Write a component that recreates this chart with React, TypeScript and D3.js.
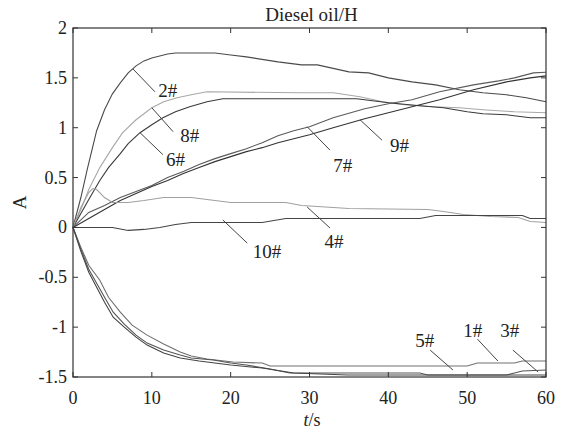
import React from "react";
import * as d3 from "d3";

const W = 572;
const H = 431;
const M = { left: 73, right: 26, top: 28, bottom: 54 };

const xTicks = [0, 10, 20, 30, 40, 50, 60];
const yTicks = [-1.5, -1, -0.5, 0, 0.5, 1, 1.5, 2];
const yTickLabels = ["-1.5", "-1", "-0.5", "0", "0.5", "1", "1.5", "2"];

type P = [number, number];

const s2: P[] = [[0,0],[1,0.3],[1.8,0.58],[3,0.97],[4,1.18],[5,1.34],[6,1.45],[7,1.55],[8,1.62],[9,1.67],[10,1.7],[11,1.72],[12,1.74],[13,1.75],[18,1.75],[20,1.73],[22,1.71],[26,1.66],[29,1.63],[31,1.63],[35,1.56],[37.5,1.55],[40,1.5],[43,1.46],[46,1.43],[49,1.38],[52,1.35],[55,1.33],[57.5,1.3],[60,1.26]];
const s8: P[] = [[0,0],[1,0.18],[2,0.38],[3.4,0.6],[5,0.8],[6.3,0.95],[8,1.08],[10,1.2],[11.5,1.26],[13.2,1.3],[15,1.33],[17,1.36],[28.8,1.35],[33,1.35],[36.4,1.31],[39.3,1.26],[42,1.23],[45.7,1.21],[49,1.2],[52,1.18],[56,1.16],[60,1.15]];
const s6: P[] = [[0,0],[1,0.14],[2,0.28],[3.4,0.47],[4.5,0.6],[6,0.74],[7,0.84],[8.5,0.95],[10,1.03],[11.4,1.1],[13,1.16],[14.8,1.21],[17,1.26],[19,1.29],[36,1.29],[38,1.27],[40,1.25],[44,1.22],[47,1.2],[50,1.16],[52,1.14],[55,1.13],[58,1.1],[60,1.1]];
const s7: P[] = [[0,0],[2,0.15],[4,0.22],[6,0.3],[8,0.36],[10,0.42],[12,0.5],[14,0.56],[16,0.63],[18,0.69],[20,0.74],[22,0.79],[24,0.85],[26,0.92],[28,0.97],[30,1.01],[33,1.1],[37,1.19],[40,1.24],[43,1.28],[46.5,1.36],[50.8,1.43],[54,1.47],[56,1.5],[58.4,1.55],[60,1.556]];
const s9: P[] = [[0,0],[2,0.09],[4,0.18],[6,0.27],[8,0.34],[10,0.41],[12,0.47],[14,0.54],[16,0.6],[18,0.66],[20,0.71],[22,0.76],[24,0.8],[26,0.85],[28,0.89],[30,0.93],[33,1.0],[37,1.09],[40,1.15],[43,1.21],[46.5,1.28],[50.8,1.38],[55,1.46],[58,1.5],[60,1.52]];
const s4: P[] = [[0,0],[1,0.2],[2,0.35],[2.5,0.39],[3,0.38],[4,0.3],[5,0.25],[7,0.25],[9,0.27],[11.5,0.3],[15,0.3],[17,0.28],[20,0.25],[27,0.25],[29,0.22],[31,0.21],[35,0.19],[45,0.18],[47,0.16],[49.5,0.13],[53,0.11],[56.5,0.1],[58,0.06],[60,0.05]];
const s10: P[] = [[0,0],[3,0],[5,0],[7,-0.03],[9,-0.02],[11,0],[13,0.03],[15,0.05],[24,0.05],[27,0.09],[44,0.09],[46,0.12],[57,0.12],[58,0.09],[60,0.09]];
const s1: P[] = [[0,0],[1,-0.2],[2,-0.38],[3.4,-0.53],[4.5,-0.7],[6,-0.85],[7.5,-0.98],[9.4,-1.08],[11.5,-1.17],[13.6,-1.25],[15,-1.29],[17,-1.32],[20.3,-1.35],[24,-1.36],[25,-1.39],[50,-1.39],[51.3,-1.36],[56,-1.36],[57,-1.34],[60,-1.34]];
const s5: P[] = [[0,0],[1,-0.22],[2,-0.42],[3,-0.56],[4,-0.7],[5.1,-0.85],[6.5,-0.97],[8,-1.08],[9.4,-1.16],[11.5,-1.23],[13.6,-1.28],[15,-1.31],[17.8,-1.33],[20,-1.36],[22,-1.38],[25,-1.42],[27.5,-1.46],[44,-1.46],[45,-1.48],[55,-1.48],[56,-1.46],[57,-1.44],[60,-1.43]];
const s3: P[] = [[0,0],[1,-0.24],[2,-0.45],[3,-0.6],[4,-0.75],[5.1,-0.9],[6.5,-1.0],[8,-1.1],[9.4,-1.18],[11.5,-1.26],[13.6,-1.31],[16,-1.34],[18,-1.36],[20,-1.38],[24,-1.41],[28,-1.46],[34.8,-1.48],[60,-1.48]];

const seriesNames = ["2#", "8#", "6#", "7#", "9#", "4#", "10#", "1#", "5#", "3#"];
const seriesData = [s2, s8, s6, s7, s9, s4, s10, s1, s5, s3];
const seriesColors = ["#4a4a4a", "#a8a8a8", "#3a3a3a", "#5a5a5a", "#333333", "#a0a0a0", "#444444", "#707070", "#555555", "#444444"];

// label text anchor (data coords) and leader from/to (data coords)
const labelText = ["2#", "8#", "6#", "7#", "9#", "4#", "10#", "5#", "1#", "3#"];
const labelX = [10.8, 13.6, 11.8, 33, 40.2, 31.9, 22.8, 43.4, 49.5, 54.2];
const labelY = [1.31, 0.86, 0.616, 0.56, 0.755, -0.21, -0.31, -1.2, -1.1, -1.1];
const leaderX1 = [7.6, 10, 8.5, 29.7, 36.4, 29.7, 19, 45.3, 51.3, 55.8];
const leaderY1 = [1.59, 1.2, 0.95, 1.01, 1.08, 0.205, 0.075, -1.23, -1.12, -1.23];
const leaderX2 = [10.4, 12.7, 11.4, 32.6, 39.2, 32.6, 22.1, 48.2, 53.9, 59];
const leaderY2 = [1.36, 0.96, 0.73, 0.775, 0.875, -0.006, -0.157, -1.43, -1.34, -1.45];

const FONT = "'Liberation Serif', 'Times New Roman', serif";

export default function App() {
  const x = d3.scaleLinear().domain([0, 60]).range([M.left, W - M.right]);
  const y = d3.scaleLinear().domain([-1.5, 2]).range([H - M.bottom, M.top]);
  const line = d3.line<P>().x((d) => x(d[0])).y((d) => y(d[1]));
  const x0 = M.left, x1 = W - M.right, y0 = M.top, y1 = H - M.bottom;
  const tl = 5;
  const axisColor = "#333";
  return (
    <svg width={W} height={H} style={{ position: "absolute", left: 0, top: 0, background: "#fff" }} fontFamily={FONT}>
      <rect x={0} y={0} width={W} height={H} fill="#fff" />
      <text x={(x0 + x1) / 2 + 2} y={21} textAnchor="middle" fontSize={19} fill="#222">Diesel oil/H</text>
      {seriesData.map((d, i) => (
        <path key={seriesNames[i]} d={line(d) || ""} fill="none" stroke={seriesColors[i]} strokeWidth={1.1} />
      ))}
      {labelText.map((t, i) => (
        <g key={"lab" + i}>
          <line x1={x(leaderX1[i])} y1={y(leaderY1[i])} x2={x(leaderX2[i])} y2={y(leaderY2[i])} stroke="#444" strokeWidth={1} />
          <text x={x(labelX[i])} y={y(labelY[i])} fontSize={19} fill="#222">{t}</text>
        </g>
      ))}
      <rect x={x0} y={y0} width={x1 - x0} height={y1 - y0} fill="none" stroke={axisColor} strokeWidth={1.2} />
      {xTicks.map((t) => (
        <g key={"xt" + t}>
          <line x1={x(t)} x2={x(t)} y1={y1} y2={y1 - tl} stroke={axisColor} />
          <line x1={x(t)} x2={x(t)} y1={y0} y2={y0 + tl} stroke={axisColor} />
          <text x={x(t)} y={y1 + 27} textAnchor="middle" fontSize={18} fill="#222">{t}</text>
        </g>
      ))}
      {yTicks.map((t, i) => (
        <g key={"yt" + t}>
          <line x1={x0} x2={x0 + tl} y1={y(t)} y2={y(t)} stroke={axisColor} />
          <line x1={x1} x2={x1 - tl} y1={y(t)} y2={y(t)} stroke={axisColor} />
          <text x={x0 - 6} y={y(t) + 6} textAnchor="end" fontSize={18} fill="#222">{yTickLabels[i]}</text>
        </g>
      ))}
      <text x={312} y={426} textAnchor="middle" fontSize={18} fill="#222">
        <tspan fontStyle="italic">t</tspan>/s
      </text>
      <text transform={`translate(26, ${(y0 + y1) / 2}) rotate(-90)`} textAnchor="middle" fontSize={19} fill="#222">A</text>
    </svg>
  );
}
